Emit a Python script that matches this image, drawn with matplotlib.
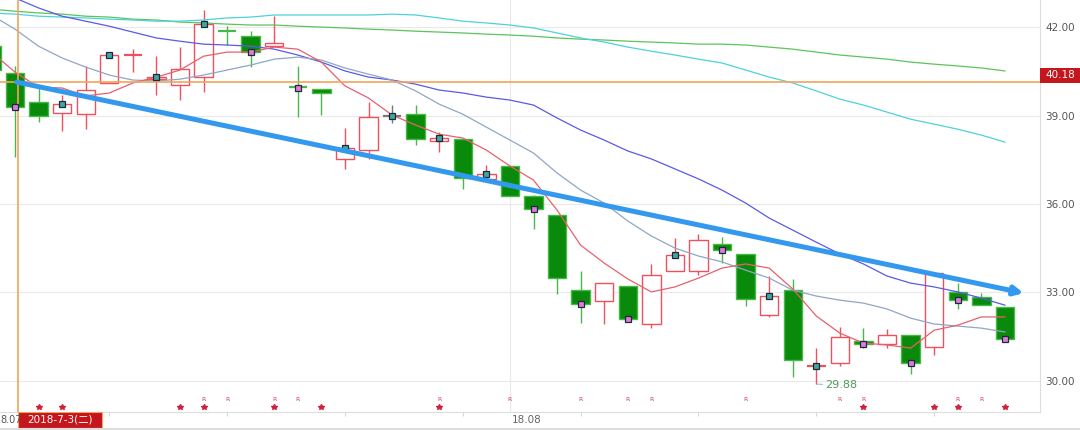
import matplotlib
matplotlib.use("Agg")
import matplotlib.pyplot as plt
from matplotlib.patches import Rectangle

# daily candles, index 0..43 (index 22 = first day of 18.08)
opens = [41.38, 40.45, 39.46, 39.08, 39.05, 40.10, 41.04, 40.24, 40.04, 40.31,
         41.87, 41.70, 41.36, 39.99, 39.90, 37.52, 37.83, 39.00, 39.05, 38.13,
         38.20, 36.84, 37.29, 36.27, 35.61, 33.07, 32.69, 33.20, 31.92, 33.71,
         33.71, 34.63, 34.29, 32.21, 33.07, 30.49, 30.59, 31.33, 31.23, 31.54,
         31.13, 33.00, 32.83, 32.49]
highs = [41.45, 40.68, 40.01, 39.70, 40.68, 41.06, 41.26, 41.02, 41.33, 42.59,
         42.04, 41.87, 42.38, 40.68, 39.90, 38.58, 39.46, 39.35, 39.35, 38.44,
         38.20, 37.32, 37.29, 36.30, 35.61, 33.71, 33.30, 33.20, 33.95, 34.83,
         34.97, 34.86, 34.29, 33.54, 33.44, 31.09, 31.81, 31.78, 31.74, 31.54,
         33.64, 33.30, 32.96, 32.49]
lows = [40.40, 37.59, 38.78, 38.48, 38.54, 40.10, 40.48, 39.70, 39.53, 39.80,
        41.40, 40.65, 41.36, 38.95, 39.02, 37.19, 37.52, 38.74, 38.00, 37.76,
        36.51, 36.84, 36.27, 35.14, 32.94, 31.94, 31.92, 32.08, 31.78, 33.71,
        33.58, 33.99, 32.52, 32.15, 30.11, 29.88, 30.48, 31.09, 31.09, 30.21,
        30.86, 32.42, 32.55, 31.40]
closes = [40.55, 39.29, 38.99, 39.39, 39.87, 41.06, 41.06, 40.31, 40.58, 42.11,
          41.86, 41.16, 41.47, 39.95, 39.77, 37.90, 38.95, 39.00, 38.20, 38.24,
          36.87, 37.01, 36.27, 35.82, 33.47, 32.59, 33.30, 32.08, 33.58, 34.25,
          34.76, 34.43, 32.76, 32.86, 30.69, 30.51, 31.47, 31.23, 31.54, 30.59,
          33.64, 32.73, 32.55, 31.40]

ma5 = [41.16, 40.48, 39.97, 39.94, 39.67, 39.77, 40.11, 40.31, 40.55, 41.02,
       41.16, 41.16, 41.33, 41.26, 40.82, 40.01, 39.60, 39.02, 38.68, 38.37,
       38.24, 37.83, 37.29, 36.81, 35.79, 34.60, 33.99, 33.45, 33.01, 33.18,
       33.48, 33.82, 33.96, 33.82, 33.11, 32.19, 31.61, 31.27, 31.21, 31.10,
       31.71, 31.88, 32.16, 32.16]
ma10 = [42.42, 41.94, 41.36, 40.96, 40.65, 40.38, 40.21, 40.18, 40.24, 40.38,
        40.55, 40.72, 40.92, 40.99, 40.89, 40.62, 40.41, 40.21, 39.84, 39.39,
        39.05, 38.61, 38.17, 37.73, 37.05, 36.47, 36.03, 35.42, 34.91, 34.50,
        34.23, 34.03, 33.75, 33.48, 33.07, 32.87, 32.73, 32.63, 32.43, 32.12,
        31.92, 31.85, 31.78, 31.65]
ma20 = [43.27, 43.00, 42.66, 42.38, 42.21, 42.04, 41.84, 41.64, 41.53, 41.43,
        41.40, 41.36, 41.26, 41.06, 40.82, 40.52, 40.31, 40.21, 40.07, 39.87,
        39.77, 39.63, 39.53, 39.36, 38.92, 38.51, 38.17, 37.80, 37.53, 37.19,
        36.85, 36.47, 36.03, 35.52, 35.11, 34.70, 34.30, 33.96, 33.55, 33.31,
        33.18, 33.01, 32.80, 32.56]
ma60 = [42.49, 42.45, 42.38, 42.35, 42.32, 42.28, 42.25, 42.21, 42.21, 42.25,
        42.32, 42.35, 42.42, 42.42, 42.42, 42.42, 42.42, 42.45, 42.42, 42.32,
        42.21, 42.15, 42.08, 41.98, 41.81, 41.64, 41.50, 41.33, 41.19, 41.06,
        40.92, 40.79, 40.55, 40.31, 40.11, 39.84, 39.56, 39.36, 39.12, 38.88,
        38.71, 38.54, 38.34, 38.10]
ma120 = [42.62, 42.55, 42.49, 42.45, 42.38, 42.35, 42.28, 42.25, 42.18, 42.15,
         42.11, 42.08, 42.08, 42.04, 42.01, 41.98, 41.94, 41.91, 41.87, 41.84,
         41.81, 41.77, 41.74, 41.70, 41.64, 41.60, 41.57, 41.53, 41.50, 41.47,
         41.43, 41.43, 41.40, 41.33, 41.26, 41.16, 41.06, 40.99, 40.92, 40.82,
         40.75, 40.69, 40.62, 40.52]

r_days = [9, 10, 12, 13, 19, 22, 25, 27, 28, 32, 36, 37, 41, 42]
star_days = [2, 3, 8, 9, 12, 14, 19, 37, 40, 41, 43]

trend_x = [1.08, 43.8]
trend_y = [40.14, 32.97]

last_price = 40.16
cross_day = 1.13
low_day = 35
y_ticks = [30, 33, 36, 39, 42]

RED = '#f0505e'
GREEN = '#0a8a0a'
GREEN_EDGE = '#48b848'

fig = plt.figure(figsize=(10.8, 4.3), dpi=100)
ax = fig.add_axes([0, 18 / 430, 1040 / 1080, 412 / 430])
ax.set_xlim(0.364, 44.49)
ax.set_ylim(28.93, 42.93)

# grid
for v in y_ticks:
    ax.axhline(v, color='#e9e9e9', lw=0.8, zorder=0)
ax.axvline(22, color='#e9e9e9', lw=0.8, zorder=0)

# candles
w = 0.78
for i in range(len(opens)):
    o, h, l, c = opens[i], highs[i], lows[i], closes[i]
    up = c >= o
    if i == 17:
        col, face, edge = '#777777', 'white', '#777777'
    elif up:
        col, face, edge = RED, 'white', RED
    else:
        col, face, edge = GREEN_EDGE, GREEN, GREEN_EDGE
    ax.vlines(i, l, h, color=col, lw=1.0, zorder=2)
    bot = min(o, c)
    hgt = abs(c - o)
    if hgt < 0.06:
        ax.hlines((o + c) / 2, i - w / 2, i + w / 2, color=col, lw=1.6, zorder=3)
    else:
        ax.add_patch(Rectangle((i - w / 2, bot), w, hgt, facecolor=face,
                               edgecolor=edge, lw=1.0, zorder=3))

# moving averages
xs = list(range(len(opens)))
ax.plot(xs, ma120, color='#5cc45c', lw=0.9, zorder=4)
ax.plot(xs, ma60, color='#4cd2da', lw=0.9, zorder=4)
ax.plot(xs, ma20, color='#5a5ae6', lw=0.9, zorder=4)
ax.plot(xs, ma10, color='#8fa6c6', lw=0.9, zorder=4)
ax.plot(xs, ma5, color='#e8606c', lw=0.9, zorder=4)

# small marks on every second candle
for i in range(1, len(opens), 2):
    fc = '#3fa7a0' if closes[i] >= opens[i] else '#e07ae0'
    ax.plot(i, closes[i], marker='s', ms=3.8, mfc=fc, mec='#1c2a38',
            mew=0.9, zorder=5)

# orange cross lines
ax.axhline(last_price, color='#f5a35a', lw=1.2, zorder=4)
ax.axvline(cross_day, color='#f5a35a', lw=1.2, zorder=4)

# trend arrow
ax.annotate('', xy=(trend_x[1], trend_y[1]), xytext=(trend_x[0], trend_y[0]),
            arrowprops=dict(arrowstyle='-|>', lw=3.6, color='#3399ee',
                            mutation_scale=13, shrinkA=0, shrinkB=0),
            zorder=6)

# lowest price note
ax.annotate('29.88', xy=(low_day, lows[low_day]), xytext=(low_day + 0.38, 29.84),
            color='#4e9a5a', fontsize=8, va='center',
            arrowprops=dict(arrowstyle='-', color='#8ab0d0', lw=0.7,
                            shrinkA=0, shrinkB=0))

# R / star marks at the bottom
for d in r_days:
    ax.text(d, 29.37, 'R', fontsize=4.5, color='#d0404e', ha='center',
            va='center')
ax.plot(star_days, [29.10] * len(star_days), ls='none', marker='*', ms=3.8,
        color='#d0203a')

# axes styling
ax.yaxis.tick_right()
ax.set_yticks(y_ticks)
ax.set_yticklabels(['%.2f' % v for v in y_ticks])
ax.tick_params(axis='y', length=0, pad=4, labelsize=7.5, labelcolor='#555555')
ax.set_xticks(range(5, 45, 5))
ax.set_xticklabels([])
ax.tick_params(axis='x', length=3, color='#d8d8d8', direction='out')
for s in ['top', 'left']:
    ax.spines[s].set_visible(False)
ax.spines['right'].set_color('#dddddd')
ax.spines['bottom'].set_color('#dddddd')

# price box on the right
fig.patches.append(Rectangle((1040 / 1080, (430 - 83) / 430), 40 / 1080, 15 / 430,
                             transform=fig.transFigure, facecolor='#c4161c',
                             edgecolor='none'))
fig.text(1060 / 1080, (430 - 75.5) / 430, '40.18', color='white', fontsize=7.5,
         ha='center', va='center')

# date row
fig.text(0.5 / 1080, 10 / 430, '8.07', color='#555555', fontsize=7,
         ha='left', va='center')
fig.patches.append(Rectangle((18 / 1080, 2 / 430), 84 / 1080, 16 / 430,
                             transform=fig.transFigure, facecolor='#c4161c',
                             edgecolor='#f5a35a', lw=0.8))
fig.text(60 / 1080, 10 / 430, '2018-7-3(二)', color='white', fontsize=7.5,
         ha='center', va='center', family=['DejaVu Sans', 'Noto Sans CJK SC'])
fig.text(512 / 1080, 10 / 430, '18.08', color='#666666', fontsize=7.5,
         ha='left', va='center')
fig.add_artist(plt.Line2D([0, 1], [1.5 / 430, 1.5 / 430], color='#dddddd',
                          lw=1.5, transform=fig.transFigure))

fig.savefig('out.png', dpi=100)
